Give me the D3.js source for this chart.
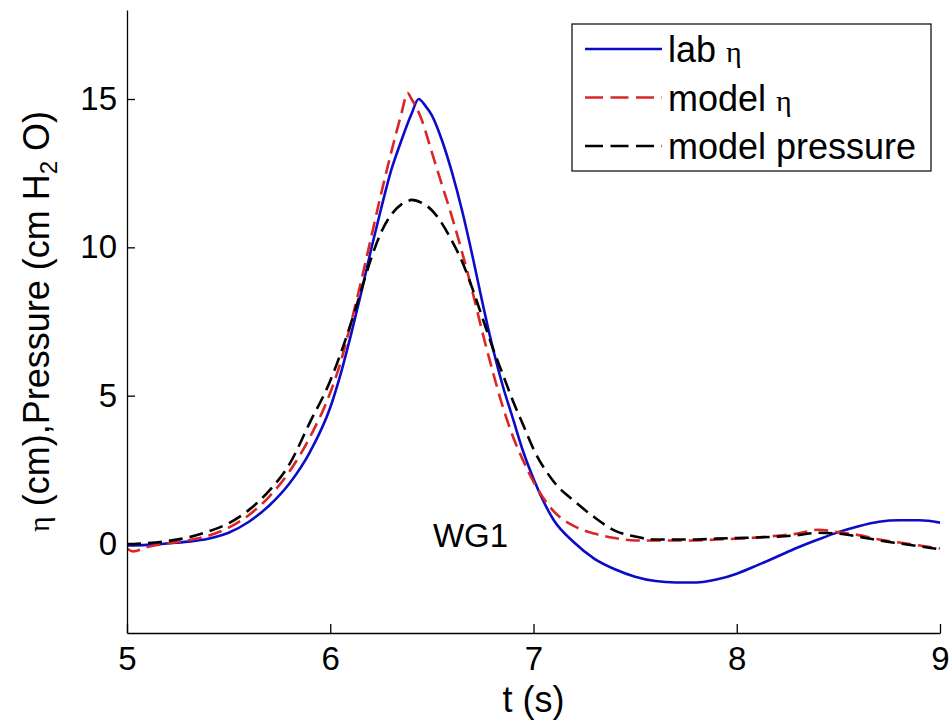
<!DOCTYPE html>
<html>
<head>
<meta charset="utf-8">
<script src="https://cdn.jsdelivr.net/npm/d3@7"></script>
<style>
    body { margin: 0; background: #fff; }
    svg { display: block; }
    text { font-family: "Liberation Sans", Arial, sans-serif; fill: #000; }
</style>
</head>
<body>
<div class="chart"></div>
<script>
/* Global Constants
============================================= */
const SVG_WIDTH = 952;
const SVG_HEIGHT = 723;
const TICK_FONT = 33;
const LABEL_FONT = 36;

// lab wave gauge record (t in s, eta in cm)
const labT = [5.0, 5.1, 5.2, 5.3, 5.4, 5.5, 5.6, 5.7, 5.8, 5.9, 6.0, 6.05, 6.1, 6.15, 6.2, 6.25, 6.3, 6.35, 6.4, 6.435, 6.47, 6.5,
    6.55, 6.6, 6.65, 6.7, 6.75, 6.8, 6.85, 6.9, 6.95, 7.0, 7.1, 7.2, 7.3, 7.4, 7.5, 7.6, 7.7, 7.8, 7.9, 8.0,
    8.1, 8.2, 8.3, 8.4, 8.5, 8.6, 8.7, 8.8, 8.9, 9.0];
const labEta = [-0.05, -0.03, 0.02, 0.08, 0.18, 0.38, 0.75, 1.3, 2.05, 3.1, 4.6, 5.7, 7.0, 8.4, 9.9, 11.3, 12.6, 13.6, 14.5, 15.0, 14.75, 14.45,
    13.6, 12.5, 11.2, 9.7, 8.1, 6.6, 5.3, 4.2, 3.1, 2.2, 0.8, 0.05, -0.5, -0.85, -1.1, -1.25, -1.3, -1.3, -1.2, -1.0,
    -0.72, -0.42, -0.12, 0.15, 0.4, 0.6, 0.75, 0.8, 0.8, 0.72];

// model output
const modelT = [5.0, 5.03, 5.1, 5.2, 5.3, 5.4, 5.5, 5.6, 5.7, 5.8, 5.9, 6.0, 6.05, 6.1, 6.15, 6.2, 6.25, 6.3, 6.35, 6.38, 6.4, 6.45,
    6.5, 6.55, 6.6, 6.65, 6.7, 6.75, 6.8, 6.85, 6.9, 6.95, 7.0, 7.1, 7.2, 7.3, 7.4, 7.5, 7.6, 7.7, 7.8, 7.9,
    8.0, 8.1, 8.2, 8.3, 8.4, 8.5, 8.6, 8.7, 8.8, 8.9, 9.0];
const modelEta = [-0.15, -0.25, -0.1, 0.02, 0.12, 0.28, 0.55, 0.98, 1.6, 2.45, 3.6, 5.1, 6.1, 7.4, 8.8, 10.3, 11.8, 13.2, 14.5, 15.2, 15.0, 14.3,
    13.2, 12.1, 11.0, 9.8, 8.5, 7.1, 5.8, 4.6, 3.6, 2.8, 2.1, 1.1, 0.6, 0.35, 0.2, 0.12, 0.12, 0.12, 0.12, 0.15,
    0.18, 0.22, 0.28, 0.35, 0.48, 0.4, 0.3, 0.15, 0.05, -0.05, -0.15];
const modelPressure = [0.0, 0.0, 0.03, 0.1, 0.22, 0.42, 0.7, 1.15, 1.8, 2.7, 4.1, 5.5, 6.4, 7.4, 8.5, 9.6, 10.5, 11.1, 11.45, 11.55, 11.6, 11.5,
    11.25, 10.8, 10.2, 9.5, 8.6, 7.6, 6.6, 5.7, 4.8, 4.0, 3.2, 2.1, 1.45, 0.9, 0.45, 0.25, 0.15, 0.15, 0.15, 0.18,
    0.2, 0.22, 0.25, 0.3, 0.38, 0.35, 0.25, 0.12, 0.02, -0.08, -0.18];

const xTicks = [5, 6, 7, 8, 9];
const yTicks = [0, 5, 10, 15];

const seriesNames = ["lab \u03b7", "model \u03b7", "model pressure"];

/* Layout
============================================= */
var margin = {
    top: 10,
    bottom: 90,
    left: 127,
    right: 12
};

var width = SVG_WIDTH - margin.left - margin.right;
var height = SVG_HEIGHT - margin.top - margin.bottom;

var svg = d3.select(".chart")
    .append("svg")
    .attr("width", SVG_WIDTH)
    .attr("height", SVG_HEIGHT);

svg.append("rect")
    .attr("width", SVG_WIDTH)
    .attr("height", SVG_HEIGHT)
    .attr("fill", "#fff");

var chart = svg.append("g")
    .attr("transform", `translate(${margin.left}, ${margin.top})`);

var xLinearScale = d3.scaleLinear().domain([5, 9]).range([0, width]);
var yLinearScale = d3.scaleLinear().domain([-3, 18]).range([height, 0]);

chart.append("clipPath")
    .attr("id", "plot-clip")
    .append("rect")
    .attr("width", width)
    .attr("height", height);

/* Series
============================================= */
var series = [
    { name: seriesNames[0], t: labT, v: labEta, color: "#0c0cc8", dash: null },
    { name: seriesNames[1], t: modelT, v: modelEta, color: "#dc2626", dash: "14 7" },
    { name: seriesNames[2], t: modelT, v: modelPressure, color: "#000", dash: "14 7" }
];

var line = d3.line()
    .x(function(d) { return xLinearScale(d[0]); })
    .y(function(d) { return yLinearScale(d[1]); })
    .curve(d3.curveMonotoneX);

var plotGroup = chart.append("g").attr("clip-path", "url(#plot-clip)");

series.forEach(function(s) {
    plotGroup.append("path")
        .datum(d3.zip(s.t, s.v))
        .attr("fill", "none")
        .attr("stroke", s.color)
        .attr("stroke-width", 2.6)
        .attr("stroke-dasharray", s.dash)
        .attr("d", line);
});

/* Axes (box off, ticks inward)
============================================= */
var bottomAxis = d3.axisBottom(xLinearScale)
    .tickValues(xTicks)
    .tickFormat(d3.format("d"))
    .tickSize(-9)
    .tickSizeOuter(0)
    .tickPadding(14);

var leftAxis = d3.axisLeft(yLinearScale)
    .tickValues(yTicks)
    .tickFormat(d3.format("d"))
    .tickSize(-8)
    .tickSizeOuter(0)
    .tickPadding(10);

var xAxis = chart.append("g")
    .attr("transform", `translate(0, ${height})`)
    .call(bottomAxis);

var yAxis = chart.append("g")
    .call(leftAxis);

[xAxis, yAxis].forEach(function(a) {
    a.selectAll("path, line").attr("stroke", "#000").attr("stroke-width", 1.3);
    a.selectAll("text")
        .attr("font-family", "Liberation Sans, Arial, sans-serif")
        .attr("font-size", TICK_FONT)
        .attr("fill", "#000");
});

// x label
chart.append("text")
    .attr("x", xLinearScale(7))
    .attr("y", height + 79)
    .attr("text-anchor", "middle")
    .attr("font-size", LABEL_FONT)
    .text("t (s)");

// y label
var yLabel = chart.append("text")
    .attr("transform", `translate(${-78}, ${height / 2}) rotate(-90)`)
    .attr("text-anchor", "middle")
    .attr("font-size", LABEL_FONT);

yLabel.append("tspan")
    .attr("font-family", "Liberation Serif, serif")
    .attr("font-size", 30)
    .text("\u03b7");
yLabel.append("tspan").text(" (cm),Pressure (cm H");
yLabel.append("tspan")
    .attr("font-size", 24)
    .attr("dy", 8)
    .text("2");
yLabel.append("tspan")
    .attr("dy", -8)
    .text(" O)");

// annotation
chart.append("text")
    .attr("x", xLinearScale(6.69))
    .attr("y", yLinearScale(-0.1))
    .attr("text-anchor", "middle")
    .attr("font-size", TICK_FONT)
    .text("WG1");

/* Legend
============================================= */
var legend = svg.append("g")
    .attr("transform", "translate(572, 24)");

legend.append("rect")
    .attr("width", 359)
    .attr("height", 147)
    .attr("fill", "#fff")
    .attr("stroke", "#000")
    .attr("stroke-width", 1.2);

series.forEach(function(s, i) {
    var rowY = 25 + i * 48.5;

    legend.append("line")
        .attr("x1", 13)
        .attr("x2", 90)
        .attr("y1", rowY)
        .attr("y2", rowY)
        .attr("stroke", s.color)
        .attr("stroke-width", 2.6)
        .attr("stroke-dasharray", s.dash ? "18 7.5" : null);

    var label = legend.append("text")
        .attr("x", 96)
        .attr("y", rowY + 13)
        .attr("font-size", LABEL_FONT);

    var parts = s.name.split("\u03b7");
    label.append("tspan").text(parts[0]);
    if (parts.length > 1) {
        label.append("tspan")
            .attr("font-family", "Liberation Serif, serif")
            .attr("font-size", 30)
            .text("\u03b7");
    }
});
</script>
</body>
</html>
